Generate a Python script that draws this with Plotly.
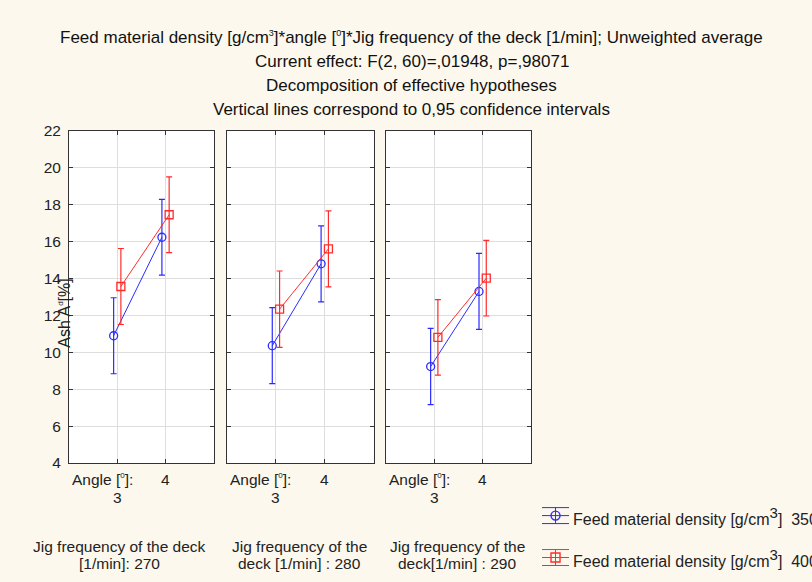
import plotly.graph_objects as go
from plotly.subplots import make_subplots

# ---- data ----
jig_freq = [270, 280, 290]
angles = [3, 4]
density_labels = ["350", "400"]
mean_350 = [[10.90, 16.24], [10.36, 14.80], [9.23, 13.30]]
ci_350 = [[2.06, 2.05], [2.06, 2.06], [2.07, 2.06]]
mean_400 = [[13.57, 17.46], [12.34, 15.61], [10.81, 14.02]]
ci_400 = [[2.06, 2.05], [2.07, 2.06], [2.05, 2.05]]
y_ticks = [4, 6, 8, 10, 12, 14, 16, 18, 20, 22]
freq_labels = [("Jig frequency of the deck", "[1/min]: 270"),
               ("Jig frequency of the", "deck [1/min] : 280"),
               ("Jig frequency of the", "deck[1/min] : 290")]

# ---- style ----
BG = "#fdf8ee"
BLUE = "#2b2bff"
RED = "#ff2b2b"
DODGE = 0.075
FONT = "Liberation Sans, Arial, sans-serif"
W, H = 812, 582
L, R, T, B = 69.3, 531.0, 130.7, 463.3
doms = [(69.3, 214.0), (227.3, 373.7), (386.0, 531.0)]
SUP0 = "<sup><span style='font-size:8px'>0</span></sup>"


def px(xp):
    return (xp - L) / (R - L)


def py(yp):
    return (B - yp) / (B - T)


fig = make_subplots(rows=1, cols=3, shared_yaxes=True)

series = [(mean_350, ci_350, BLUE, "circle-open", -DODGE),
          (mean_400, ci_400, RED, "square-open", DODGE)]
for i in range(3):
    for means, cis, col, sym, off in series:
        fig.add_trace(go.Scatter(
            x=[a + off for a in angles], y=means[i],
            mode="lines+markers",
            line=dict(color=col, width=1),
            marker=dict(symbol=sym, size=8, color=col, line=dict(width=1.3, color=col)),
            error_y=dict(type="data", array=cis[i], color=col, thickness=1.2, width=3),
            showlegend=False, hoverinfo="skip"), row=1, col=i + 1)

for i, (a, b) in enumerate(doms):
    xa = "xaxis" if i == 0 else f"xaxis{i+1}"
    ya = "yaxis" if i == 0 else f"yaxis{i+1}"
    fig.layout[xa].update(domain=[px(a), px(b)], range=[2, 5], tickvals=angles,
                          showticklabels=False, ticks="inside", ticklen=4,
                          tickcolor="#333", showgrid=True, gridcolor="#dedede",
                          showline=True, linecolor="#333", linewidth=1, mirror="ticks",
                          zeroline=False)
    fig.layout[ya].update(range=[4, 22], tickvals=y_ticks, ticks="inside", ticklen=4,
                          tickcolor="#333", showgrid=True, gridcolor="#dedede",
                          showline=True, linecolor="#333", linewidth=1, mirror="ticks",
                          zeroline=False, showticklabels=(i == 0), ticklabelstandoff=4,
                          tickfont=dict(size=15.5, color="#222", family=FONT))

ann = []
title_lines = [
    "Feed material density [g/cm<sup><span style='font-size:9px'>3</span></sup>]*angle ["
    + "<sup><span style='font-size:9px'>0</span></sup>]*Jig frequency of the deck [1/min]; Unweighted average",
    "Current effect: F(2, 60)=,01948, p=,98071",
    "Decomposition of effective hypotheses",
    "Vertical lines correspond to 0,95 confidence intervals",
]
for k, t in enumerate(title_lines):
    ann.append(dict(text=t, x=px(412), y=py(37 + 24 * k), xref="paper", yref="paper",
                    showarrow=False, xanchor="center", yanchor="middle",
                    font=dict(size=17, color="#111", family=FONT)))

ann.append(dict(text="Ash A<sup><span style='font-size:8px'>d</span></sup>[%]", x=px(65), y=py(313),
                xref="paper", yref="paper",
                textangle=-90, showarrow=False, xanchor="center", yanchor="middle",
                font=dict(size=16, color="#222", family=FONT)))

for i, (a, b) in enumerate(doms):
    xr = "x" if i == 0 else f"x{i+1}"
    ann.append(dict(text="Angle [" + SUP0 + "]:", x=px(a + 1), y=py(480), xref="paper", yref="paper",
                    showarrow=False, xanchor="left", yanchor="middle",
                    font=dict(size=15.5, color="#222", family=FONT)))
    ann.append(dict(text=str(angles[1]), x=angles[1], y=py(480), xref=xr, yref="paper",
                    showarrow=False, xanchor="center", yanchor="middle",
                    font=dict(size=15.5, color="#222", family=FONT)))
    ann.append(dict(text=str(angles[0]), x=angles[0], y=py(498), xref=xr, yref="paper",
                    showarrow=False, xanchor="center", yanchor="middle",
                    font=dict(size=15.5, color="#222", family=FONT)))
    cx = (a + b) / 2 - 22 if i == 0 else (a + b) / 2 - 1
    l1, l2 = freq_labels[i]
    ann.append(dict(text=l1, x=px(cx), y=py(547), xref="paper", yref="paper",
                    showarrow=False, xanchor="center", yanchor="middle",
                    font=dict(size=15.5, color="#222", family=FONT)))
    ann.append(dict(text=l2, x=px(cx), y=py(564), xref="paper", yref="paper",
                    showarrow=False, xanchor="center", yanchor="middle",
                    font=dict(size=15.5, color="#222", family=FONT)))

# manual legend
shapes = []
leg = [(516, BLUE, "circle", density_labels[0]), (558, RED, "rect", density_labels[1])]
for yc, col, shp, lab in leg:
    x0, x1 = 542, 569
    xm = (x0 + x1) / 2
    for yy in (yc - 8, yc, yc + 8):
        shapes.append(dict(type="line", xref="paper", yref="paper", x0=px(x0), x1=px(x1),
                           y0=py(yy), y1=py(yy), line=dict(color=col, width=1)))
    shapes.append(dict(type="line", xref="paper", yref="paper", x0=px(xm), x1=px(xm),
                       y0=py(yc - 8), y1=py(yc + 8), line=dict(color=col, width=1)))
    shapes.append(dict(type=shp, xref="paper", yref="paper", x0=px(xm - 4.5), x1=px(xm + 4.5),
                       y0=py(yc - 4.5), y1=py(yc + 4.5), line=dict(color=col, width=1.4)))
    ann.append(dict(text=f"Feed material density [g/cm<sup><span style='font-size:15px'>3</span></sup>]  {lab}",
                    x=px(571), y=py(yc),
                    xref="paper", yref="paper", showarrow=False, xanchor="left", yanchor="middle",
                    font=dict(size=16, color="#222", family=FONT)))

fig.update_layout(width=W, height=H, paper_bgcolor=BG, plot_bgcolor="white",
                  margin=dict(l=L, r=W - R, t=T, b=H - B, autoexpand=False),
                  annotations=ann, shapes=shapes, showlegend=False,
                  font=dict(family=FONT))
fig.write_html("out.html", config={"displayModeBar": False},
               post_script="document.body.style.margin='0';document.body.style.padding='0';"
                           "document.body.style.background='" + BG + "';")
